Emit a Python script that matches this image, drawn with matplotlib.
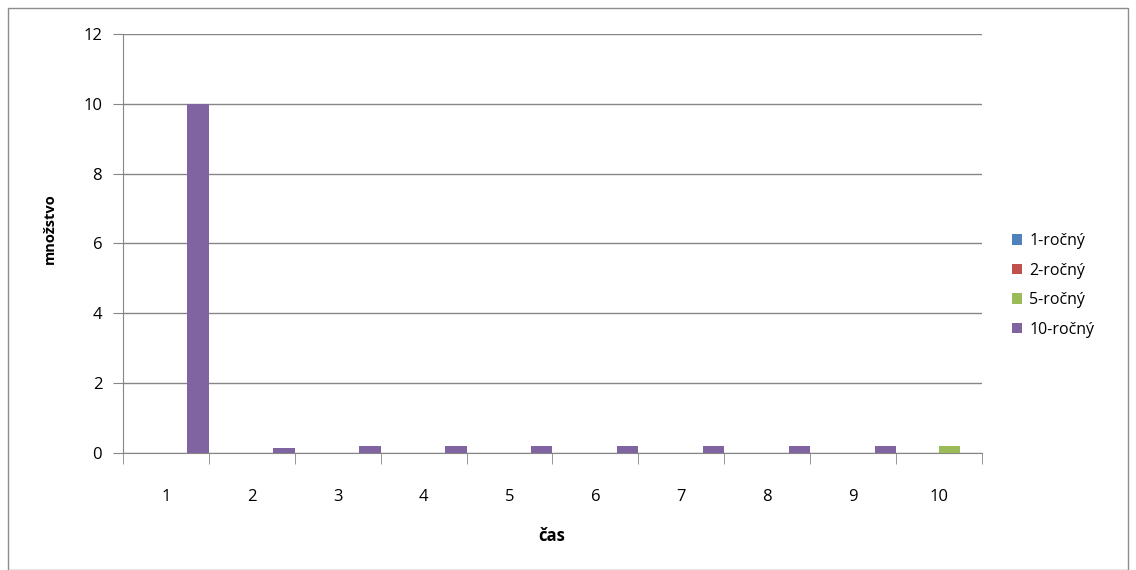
import numpy as np
import matplotlib.pyplot as plt
from matplotlib.patches import Rectangle

# data
categories = ['1', '2', '3', '4', '5', '6', '7', '8', '9', '10']
series_names = ['1-ročný', '2-ročný', '5-ročný', '10-ročný']
s1 = [0, 0, 0, 0, 0, 0, 0, 0, 0, 0]
s2 = [0, 0, 0, 0, 0, 0, 0, 0, 0, 0]
s5 = [0, 0, 0, 0, 0, 0, 0, 0, 0, 0.2]
s10 = [10, 0.15, 0.2, 0.2, 0.2, 0.2, 0.2, 0.2, 0.2, 0]
colors = ['#4F81BD', '#C0504D', '#9BBB59', '#8064A2']

plt.rcParams['font.family'] = ['Open Sans', 'DejaVu Sans']

fig = plt.figure(figsize=(11.36, 5.70), dpi=100)
ax = fig.add_axes([0.1083, 0.2053, 0.8644 - 0.1083, 0.9404 - 0.2053])

# outer chart frame
fig.patches.append(Rectangle((8 / 1136, 0.0), 1120 / 1136, 1 - 8 / 570,
                             transform=fig.transFigure, fill=False,
                             edgecolor='#8c8c8c', lw=1))

x = np.arange(len(categories))
w = 0.25
for i, (vals, name) in enumerate(zip([s1, s2, s5, s10], series_names)):
    ax.bar(x - 0.5 + w * i, vals, width=w, align='edge', color=colors[i],
           label=name, zorder=3)

ax.set_xlim(-0.5, len(categories) - 0.5)
ax.set_ylim(0, 12)
ax.set_yticks(np.arange(0, 13, 2))
ax.yaxis.grid(True, color='#868686', lw=1, zorder=0)

ax.set_xticks(x)
ax.set_xticklabels(categories)
ax.set_xticks(np.arange(-0.5, len(categories)), minor=True)
ax.tick_params(axis='x', which='major', length=0, pad=26, labelsize=12)
ax.tick_params(axis='x', which='minor', length=8, color='#868686', direction='out')
ax.tick_params(axis='y', length=7, color='#868686', labelsize=12, pad=8)

for sp in ['top', 'right']:
    ax.spines[sp].set_visible(False)
for sp in ['left', 'bottom']:
    ax.spines[sp].set_color('#868686')

ax.set_xlabel('čas', fontweight='bold', fontsize=12)
ax.set_ylabel('množstvo', fontweight='bold', fontsize=10.5)
ax.xaxis.set_label_coords(0.4994, -0.198)
ax.yaxis.set_label_coords(-0.085, 0.535)
ax.xaxis.label.set_va('center')
ax.yaxis.label.set_va('center')

ax.legend(loc='center left', bbox_to_anchor=(1.027, 0.40), frameon=False,
          fontsize=11.5, handlelength=0.65, handleheight=0.65, labelspacing=0.85,
          handletextpad=0.45, borderaxespad=0)

fig.savefig('out.png', dpi=100)
